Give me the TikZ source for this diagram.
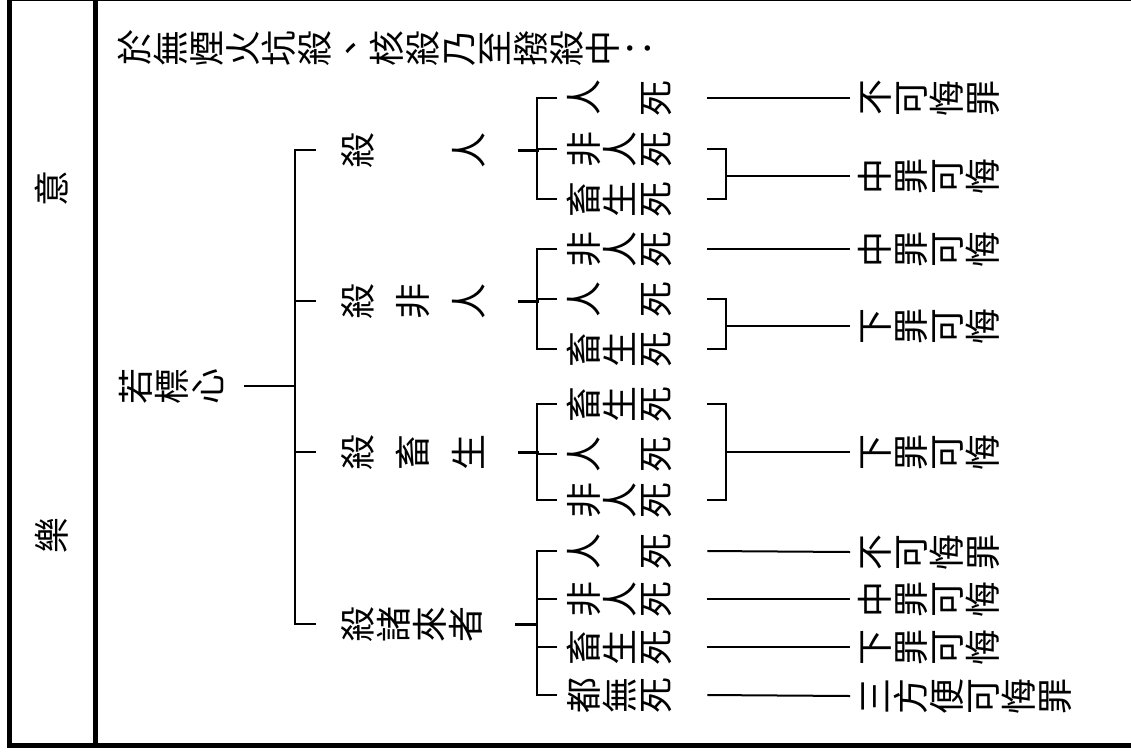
\documentclass[tikz,border=0pt]{standalone}
\usepackage{fontspec}
\usepackage{graphicx}
\newfontfamily\cjk{Noto Sans CJK TC}
\newcommand\rc[1]{\rotatebox[origin=c]{90}{\makebox[1em][c]{\raisebox{0pt}[0.88em][0.12em]{#1}}}}
\def\vt#1{\vtloop#1\relax}
\def\vtloop#1{\ifx#1\relax\else\vtone{#1}\expandafter\vtloop\fi}
\def\vtone#1{\ifx#1*\hspace*{1em}\else\ifx#1+\hspace*{0.53em}\else\rc{#1}\fi\fi}
\tikzset{
  txt/.style={inner sep=0pt, anchor=west, font=\cjk\fontsize{36}{36}\selectfont},
  ln/.style={line width=2pt},
  stem/.style={line width=3pt},
  frame/.style={line width=5pt}
}
\begin{document}
\begin{tikzpicture}[x=1pt,y=-1pt]
\useasboundingbox (0,0) rectangle (1131,752);
% frame
\draw[frame] (9.5,-3) -- (9.5,745) -- (1135,745);
\draw[frame] (7,-1.2) -- (1135,-1.2);
\draw[frame] (95.5,-3) -- (95.5,745);
% left column
\node[txt,anchor=center] (yi) at (52,188) {\vt{意}};
\node[txt,anchor=center] (le) at (52,535) {\vt{樂}};
% title
\node[txt] (title) at (117,48) {\vt{於無煙火坑殺、核殺乃至撥殺中：}};
% root
\node[txt] (root) at (118,386) {\vt{若標心}};
% branches
\node[txt] (b1) at (340,150) {\vt{殺+*+人}};
\node[txt] (b2) at (340,301) {\vt{殺+非+人}};
\node[txt] (b3) at (340,452) {\vt{殺+畜+生}};
\node[txt] (b4) at (340,624) {\vt{殺諸來者}};
% leaves
\node[txt] (l11) at (566,98) {\vt{人*死}};
\node[txt] (l12) at (566,149) {\vt{非人死}};
\node[txt] (l13) at (566,199) {\vt{畜生死}};
\node[txt] (l21) at (566,249) {\vt{非人死}};
\node[txt] (l22) at (566,299) {\vt{人*死}};
\node[txt] (l23) at (566,349) {\vt{畜生死}};
\node[txt] (l31) at (566,404) {\vt{畜生死}};
\node[txt] (l32) at (566,454) {\vt{人*死}};
\node[txt] (l33) at (566,500) {\vt{非人死}};
\node[txt] (l41) at (566,551) {\vt{人*死}};
\node[txt] (l42) at (566,599) {\vt{非人死}};
\node[txt] (l43) at (566,647) {\vt{畜生死}};
\node[txt] (l44) at (566,695) {\vt{都無死}};
% results
\node[txt] (r11) at (857,98) {\vt{不可悔罪}};
\node[txt] (r12) at (857,176) {\vt{中罪可悔}};
\node[txt] (r21) at (857,249) {\vt{中罪可悔}};
\node[txt] (r22) at (857,326) {\vt{下罪可悔}};
\node[txt] (r3) at (857,452) {\vt{下罪可悔}};
\node[txt] (r41) at (857,552) {\vt{不可悔罪}};
\node[txt] (r42) at (857,599) {\vt{中罪可悔}};
\node[txt] (r43) at (857,647) {\vt{下罪可悔}};
\node[txt] (r44) at (857,696) {\vt{三方便可悔罪}};
% root to main bracket
\draw[ln] ([xshift=18pt]root.east) -- ++(52,0);
\draw[ln] ([xshift=-24pt]b1.west) -- ++(-21,0) |- ([xshift=-24pt]b4.west);
\draw[ln] ([xshift=-24pt]b2.west) -- ++(-21,0);
\draw[ln] ([xshift=-24pt]b3.west) -- ++(-21,0);
% branch stems
\foreach \b in {b1,b2,b3,b4}{
  \draw[stem] ([xshift=31pt]\b.east) -- ++(21,0);
}
% left brackets of leaves
\draw[ln] ([xshift=-9pt]l11.west) -- ++(-20,0) |- ([xshift=-9pt]l13.west);
\draw[ln] ([xshift=-9pt]l12.west) -- ++(-20,0);
\draw[ln] ([xshift=-9pt]l21.west) -- ++(-20,0) |- ([xshift=-9pt]l23.west);
\draw[ln] ([xshift=-9pt]l22.west) -- ++(-20,0);
\draw[ln] ([xshift=-9pt]l31.west) -- ++(-20,0) |- ([xshift=-9pt]l33.west);
\draw[ln] ([xshift=-9pt]l32.west) -- ++(-20,0);
\draw[ln] ([xshift=-9pt]l41.west) -- ++(-20,0) |- ([xshift=-9pt]l44.west);
\draw[ln] ([xshift=-9pt]l42.west) -- ++(-20,0);
\draw[ln] ([xshift=-9pt]l43.west) -- ++(-20,0);
% right side: single lines
\draw[ln] ([xshift=33pt]l11.east) -- ([xshift=-7pt]r11.west);
\draw[ln] ([xshift=33pt]l21.east) -- ([xshift=-7pt]r21.west);
\draw[ln] ([xshift=33pt]l41.east) -- ([xshift=-7pt]r41.west);
\draw[ln] ([xshift=33pt]l42.east) -- ([xshift=-7pt]r42.west);
\draw[ln] ([xshift=33pt]l43.east) -- ([xshift=-7pt]r43.west);
\draw[ln] ([xshift=33pt]l44.east) -- ([xshift=-7pt]r44.west);
% right side: brackets
\draw[ln] ([xshift=33pt]l12.east) -- ++(19,0) |- ([xshift=33pt]l13.east);
\draw[ln] ([xshift=-7pt]r12.west) -- ++(-124,0);
\draw[ln] ([xshift=33pt]l22.east) -- ++(19,0) |- ([xshift=33pt]l23.east);
\draw[ln] ([xshift=-7pt]r22.west) -- ++(-124,0);
\draw[ln] ([xshift=33pt]l31.east) -- ++(19,0) |- ([xshift=33pt]l33.east);
\draw[ln] ([xshift=-7pt]r3.west) -- ++(-124,0);
\end{tikzpicture}
\end{document}
